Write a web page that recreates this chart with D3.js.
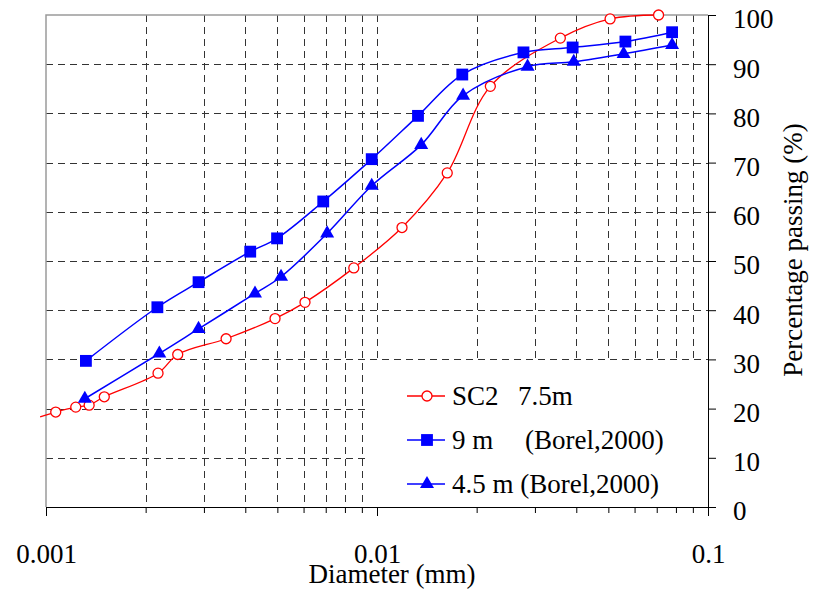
<!DOCTYPE html>
<html>
<head>
<meta charset="utf-8">
<title>Grain size distribution</title>
<script src="https://cdn.jsdelivr.net/npm/d3@7"></script>
<style>
body { margin: 0; background: #fff; }
svg text { font-family: "Liberation Serif", "Times New Roman", serif; fill: #000; }
</style>
</head>
<body>
<div id="chart"></div>
<script>
// SC2 7.5m (first point lies just left of 0.001, line only)
var sc2Diam = [0.00096, 0.00107, 0.00123, 0.00135, 0.00150, 0.00218, 0.00250, 0.00350, 0.00492,
               0.00606, 0.00851, 0.0119, 0.0163, 0.0220, 0.0358, 0.0506, 0.0709];
var sc2Pass = [18.3, 19.3, 20.3, 20.7, 22.4, 27.2, 31.0, 34.2, 38.3,
               41.6, 48.6, 56.8, 67.9, 85.5, 95.3, 99.2, 100];

// 9 m (Borel, 2000)
var b9Diam = [0.00132, 0.00217, 0.00289, 0.00414, 0.00499, 0.00688, 0.00964, 0.0133, 0.0181,
              0.0277, 0.0390, 0.0563, 0.0779];
var b9Pass = [29.7, 40.6, 45.7, 51.9, 54.6, 62.1, 70.7, 79.5, 87.9, 92.4, 93.4, 94.6, 96.5];

// 4.5 m (Borel, 2000)
var b45Diam = [0.00131, 0.00220, 0.00289, 0.00428, 0.00513, 0.00707, 0.00964, 0.0136, 0.0182,
               0.0285, 0.0393, 0.0556, 0.0779];
var b45Pass = [22.0, 31.2, 36.2, 43.4, 46.8, 55.6, 65.3, 73.6, 83.6, 89.5, 90.5, 92.1, 93.9];

var xTicks = [0.001, 0.002, 0.003, 0.004, 0.005, 0.006, 0.007, 0.008, 0.009,
              0.01, 0.02, 0.03, 0.04, 0.05, 0.06, 0.07, 0.08, 0.09, 0.1];
var xLabels = {0.001: "0.001", 0.01: "0.01", 0.1: "0.1"};
var yTicks = [0, 10, 20, 30, 40, 50, 60, 70, 80, 90, 100];

var legendItems = [
    {parts: [["SC2", 0], ["7.5m", 66]], color: "#ff0000", marker: "circle"},
    {parts: [["9 m", 0], ["(Borel,2000)", 73]], color: "#0000ff", marker: "square"},
    {parts: [["4.5 m (Borel,2000)", 0]], color: "#0000ff", marker: "triangle"}
];

var width = 816, height = 598;
var plotL = 46, plotR = 708, plotT = 15, plotB = 507;
var fontSize = 27;

var svg = d3.select("#chart").append("svg")
    .attr("width", width)
    .attr("height", height);

var x = d3.scaleLog().domain([0.001, 0.1]).range([plotL, plotR]);
var y = d3.scaleLinear().domain([0, 100]).range([plotB, plotT]);

// grid
var grid = svg.append("g").attr("class", "grid")
    .attr("stroke", "#333")
    .attr("stroke-width", 1)
    .attr("stroke-dasharray", "7,5");

grid.selectAll("line.v")
    .data(xTicks.filter(function(d){ return d > 0.001 && d < 0.1; }))
    .enter().append("line")
    .attr("class", "v")
    .attr("x1", function(d){ return Math.round(x(d)) + 0.5; })
    .attr("x2", function(d){ return Math.round(x(d)) + 0.5; })
    .attr("y1", plotT)
    .attr("y2", plotB);

grid.selectAll("line.h")
    .data(yTicks.filter(function(d){ return d > 0 && d < 100; }))
    .enter().append("line")
    .attr("class", "h")
    .attr("x1", plotL)
    .attr("x2", plotR)
    .attr("y1", function(d){ return Math.round(y(d)) + 0.5; })
    .attr("y2", function(d){ return Math.round(y(d)) + 0.5; });

// gray plot frame (top and left)
svg.append("path")
    .attr("d", "M" + plotL + "," + plotB + "V" + plotT + "H" + plotR)
    .attr("fill", "none")
    .attr("stroke", "#9a9a9a")
    .attr("stroke-width", 1.5);

// legend background hides grid
var legend = svg.append("g").attr("class", "legend");
legend.append("rect")
    .attr("x", 365).attr("y", 361)
    .attr("width", plotR - 365).attr("height", plotB - 361)
    .attr("fill", "#fff");

// axes
var xAxis = d3.axisBottom(x)
    .tickValues(xTicks)
    .tickSize(6)
    .tickFormat(function(d){ return xLabels[d] || ""; });

var gx = svg.append("g")
    .attr("transform", "translate(0," + plotB + ")")
    .call(xAxis);
gx.select(".domain").attr("d", "M" + plotL + ",0.5H" + plotR).attr("stroke", "#000");
gx.selectAll(".tick line")
    .attr("stroke", "#000")
    .attr("y2", function(d){ return xLabels[d] ? 9 : 6; });
gx.selectAll(".tick text")
    .attr("font-size", fontSize)
    .attr("font-family", "Liberation Serif")
    .attr("y", 56)
    .attr("dy", 0);

var yAxis = d3.axisRight(y)
    .tickValues(yTicks)
    .tickSize(8)
    .tickPadding(17);

var gy = svg.append("g")
    .attr("transform", "translate(" + plotR + ",0)")
    .call(yAxis);
gy.select(".domain").attr("d", "M0.5," + plotT + "V" + plotB).attr("stroke", "#000");
gy.selectAll(".tick line").attr("stroke", "#000");
gy.selectAll(".tick text")
    .attr("font-size", fontSize)
    .attr("font-family", "Liberation Serif")
    .attr("text-anchor", "start")
    .attr("dy", "0.48em");

// axis titles
svg.append("text")
    .attr("x", 392).attr("y", 583)
    .attr("text-anchor", "middle")
    .attr("font-size", fontSize)
    .text("Diameter (mm)");

svg.append("text")
    .attr("transform", "translate(802,250) rotate(-90)")
    .attr("text-anchor", "middle")
    .attr("font-size", fontSize)
    .text("Percentage passing (%)");

// series
var line = d3.line()
    .x(function(d){ return x(d[0]); })
    .y(function(d){ return y(d[1]); })
    .curve(d3.curveCatmullRom.alpha(0.5));

function drawMarker(sel, type, color) {
    if (type === "circle") {
        sel.append("circle").attr("r", 5)
            .attr("fill", "#fff").attr("stroke", color).attr("stroke-width", 1.3);
    } else if (type === "square") {
        sel.append("path").attr("d", d3.symbol().type(d3.symbolSquare).size(140)())
            .attr("fill", color);
    } else {
        sel.append("path").attr("d", d3.symbol().type(d3.symbolTriangle).size(85)())
            .attr("fill", color);
    }
}

var series = [
    {diam: sc2Diam, pass: sc2Pass, color: "#ff0000", marker: "circle", width: 1.3},
    {diam: b45Diam, pass: b45Pass, color: "#0000ff", marker: "triangle", width: 1.5},
    {diam: b9Diam, pass: b9Pass, color: "#0000ff", marker: "square", width: 1.5}
];

series.forEach(function(s){
    var pts = s.diam.map(function(d, i){ return [d, s.pass[i]]; });
    svg.append("path")
        .datum(pts)
        .attr("fill", "none")
        .attr("stroke", s.color)
        .attr("stroke-width", s.width)
        .attr("d", line);

    svg.append("g").selectAll("g")
        .data(pts.filter(function(p){ return p[0] >= 0.001; }))
        .enter().append("g")
        .attr("transform", function(p){ return "translate(" + x(p[0]) + "," + y(p[1]) + ")"; })
        .each(function(){ drawMarker(d3.select(this), s.marker, s.color); });
});

// legend entries
var rowY = [396, 440, 484];
legendItems.forEach(function(item, i){
    var g = legend.append("g").attr("transform", "translate(0," + rowY[i] + ")");
    g.append("line")
        .attr("x1", 407).attr("x2", 445)
        .attr("stroke", item.color).attr("stroke-width", 1.5);
    drawMarker(g.append("g").attr("transform", "translate(427,0)"), item.marker, item.color);
    item.parts.forEach(function(p){
        g.append("text")
            .attr("x", 452 + p[1]).attr("y", 9)
            .attr("font-size", fontSize)
            .text(p[0]);
    });
});
</script>
</body>
</html>
